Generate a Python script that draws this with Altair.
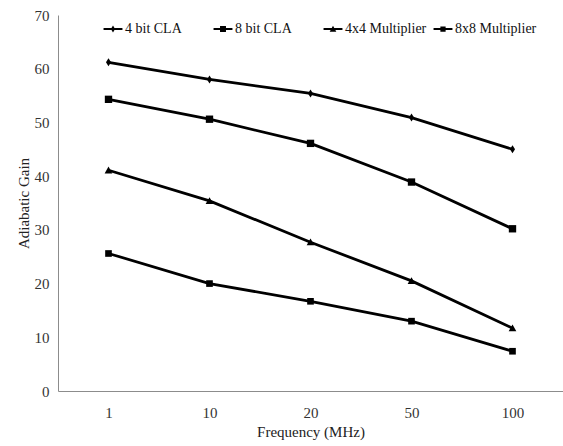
import altair as alt
import pandas as pd

freqs = ["1", "10", "20", "50", "100"]
series = ["4 bit CLA", "8 bit CLA", "4x4 Multiplier", "8x8 Multiplier"]
cla4 = [61.2, 58.0, 55.4, 50.9, 45.0]
cla8 = [54.3, 50.6, 46.1, 38.9, 30.2]
mul4 = [41.1, 35.4, 27.7, 20.5, 11.7]
mul8 = [25.6, 20.0, 16.7, 13.0, 7.4]
y_ticks = [0, 10, 20, 30, 40, 50, 60, 70]

rows = []
for s, vals in zip(series, [cla4, cla8, mul4, mul8]):
    for f, v in zip(freqs, vals):
        rows.append({"Frequency": f, "Series": s, "Gain": v})
df = pd.DataFrame(rows)

marker_paths = [
    "M0,-1.15L0.72,0L0,1.15L-0.72,0Z",
    "M-1.05,-1.05H1.05V1.05H-1.05Z",
    "M0,-1.05L1.1,0.9H-1.1Z",
    "M-0.95,-0.95H0.95V0.95H-0.95Z",
]
legend_marks = [
    "M0,-1.0L0.6,0L0,1.0L-0.6,0Z",
    "M-0.85,-0.85H0.85V0.85H-0.85Z",
    "M0,-0.9L0.95,0.75H-0.95Z",
    "M-0.75,-0.75H0.75V0.75H-0.75Z",
]
stub = "M-2.7,-0.3H2.7V0.3H-2.7Z"
legend_paths = [stub + p for p in legend_marks]

font = "Liberation Serif, Times New Roman, Times, serif"

x_enc = alt.X(
    "Frequency:N",
    sort=freqs,
    scale=alt.Scale(type="point", padding=0.5),
    axis=alt.Axis(
        title="Frequency (MHz)",
        labelAngle=0,
        ticks=False,
        tickSize=0,
        grid=False,
        domainColor="#8c8c8c",
        labelPadding=14,
        titlePadding=4,
    ),
)
y_enc = alt.Y(
    "Gain:Q",
    scale=alt.Scale(domain=[0, 70], nice=False),
    axis=alt.Axis(
        title="Adiabatic Gain",
        values=y_ticks,
        ticks=False,
        tickSize=0,
        grid=False,
        domainColor="#8c8c8c",
        labelPadding=9,
        titlePadding=3,
    ),
)

base = alt.Chart(df)

lines = base.mark_line(color="black", strokeWidth=2.8).encode(
    x=x_enc, y=y_enc, detail="Series:N"
)

points = base.mark_point(filled=True, color="black", size=49, opacity=1).encode(
    x=x_enc,
    y=y_enc,
    shape=alt.Shape(
        "Series:N",
        scale=alt.Scale(domain=series, range=marker_paths),
        legend=None,
    ),
)

legend_layer = base.mark_point(filled=True, color="black", size=0).encode(
    x=x_enc,
    y=y_enc,
    shape=alt.Shape(
        "Series:N",
        scale=alt.Scale(domain=series, range=legend_paths),
        legend=alt.Legend(
            title=None,
            orient="none",
            legendX=48,
            legendY=7,
            direction="horizontal",
            columns=4,
            gridAlign="all",
            columnPadding=6,
            symbolSize=49,
            symbolFillColor="black",
            symbolStrokeWidth=0,
            symbolOpacity=1,
            labelOffset=5,
            labelFontSize=14,
            labelFont=font,
            labelColor="#111",
        ),
    ),
)

chart = (
    alt.layer(lines, points, legend_layer)
    .resolve_scale(shape="independent")
    .properties(
        width=505,
        height=376,
        autosize=alt.AutoSizeParams(type="none"),
        padding={"left": 58, "top": 15, "right": 0, "bottom": 55},
    )
    .configure_view(stroke=None)
    .configure_axis(
        labelFont=font,
        titleFont=font,
        labelFontSize=15,
        titleFontSize=15,
        titleFontWeight="normal",
        labelColor="#333",
        titleColor="#222",
    )
)

chart.save("out.html", embed_options={"renderer": "svg", "actions": False})
